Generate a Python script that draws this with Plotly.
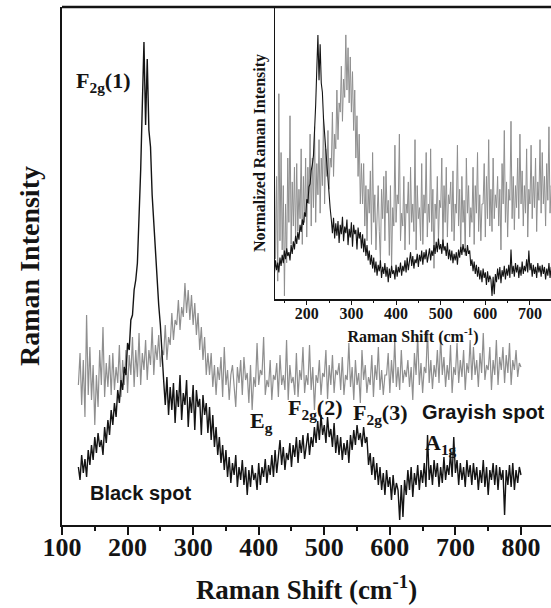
import numpy as np
import plotly.graph_objects as go

# Raman shift grid (cm-1), 2.5 cm-1 sampling
shift = [125 + 2.5 * i for i in range(271)]

# Black spot spectrum (arbitrary intensity units), rows of 50 cm-1
black_spot = [
    58, 45, 70, 52, 66, 48, 75, 60, 80, 65, 88, 72, 92, 78, 85, 70, 98, 82, 105, 90,
    115, 100, 122, 108, 135, 122, 145, 135, 158, 150, 182, 175, 205, 210, 235, 245, 262, 300, 355, 420,
    483, 400, 466, 395, 378, 330, 300, 272, 248, 220, 200, 165, 145, 120, 148, 110, 138, 115, 142, 102,
    135, 118, 150, 105, 132, 120, 145, 98, 128, 112, 140, 95, 135, 118, 126, 90, 130, 110, 122, 92,
    118, 85, 110, 78, 98, 70, 88, 62, 80, 55, 75, 48, 68, 42, 62, 50, 70, 38, 58, 45,
    65, 40, 58, 30, 55, 38, 60, 45, 52, 35, 62, 40, 58, 48, 66, 42, 60, 50, 70, 48,
    75, 52, 68, 85, 60, 78, 55, 72, 65, 82, 58, 80, 68, 88, 62, 85, 72, 90, 66, 82,
    92, 70, 88, 78, 98, 82, 104, 85, 110, 90, 100, 82, 108, 88, 96, 78, 102, 72, 90, 70,
    88, 65, 82, 70, 85, 62, 90, 75, 95, 80, 100, 85, 92, 78, 98, 82, 88, 60, 72, 50,
    68, 45, 62, 40, 58, 35, 52, 30, 55, 38, 48, 25, 50, 30, 42, 35, 5, 40, 8, 45,
    30, 55, 35, 58, 28, 52, 40, 60, 35, 55, 42, 62, 38, 90, 45, 60, 40, 65, 48, 62,
    38, 58, 42, 68, 45, 60, 50, 72, 48, 88, 52, 65, 40, 62, 45, 58, 38, 65, 48, 60,
    40, 62, 45, 58, 35, 55, 42, 65, 38, 58, 30, 55, 45, 62, 40, 60, 35, 58, 45, 55,
    10, 55, 40, 60, 38, 62, 35, 55, 42, 58, 50,
]

# Grayish spot spectrum (arbitrary intensity units), rows of 50 cm-1
gray_spot = [
    140, 172, 120, 165, 108, 210, 130, 178, 125, 160, 100, 150, 118, 175, 140, 198, 128, 162, 138, 170,
    130, 172, 135, 158, 142, 180, 128, 165, 140, 175, 132, 170, 150, 188, 138, 175, 148, 192, 140, 172,
    155, 185, 145, 175, 160, 198, 150, 180, 165, 190, 158, 175, 170, 200, 165, 188, 180, 212, 185, 205,
    200, 225, 195, 218, 208, 242, 212, 235, 205, 230, 200, 222, 190, 212, 175, 198, 165, 188, 150, 172,
    150, 172, 138, 160, 130, 158, 145, 168, 128, 178, 140, 155, 125, 150, 160, 135, 118, 158, 142, 165,
    130, 168, 145, 152, 122, 160, 115, 148, 138, 182, 140, 155, 150, 188, 130, 145, 138, 165, 125, 150,
    145, 162, 128, 170, 140, 150, 135, 185, 125, 160, 142, 148, 130, 172, 128, 155, 145, 178, 132, 150,
    140, 180, 135, 158, 115, 150, 142, 165, 130, 152, 148, 175, 126, 160, 140, 170, 132, 155, 150, 162,
    135, 168, 130, 150, 145, 182, 138, 158, 125, 165, 140, 152, 122, 175, 145, 160, 132, 148, 140, 170,
    128, 160, 145, 178, 135, 155, 130, 150, 150, 172, 132, 165, 142, 185, 138, 158, 135, 175, 142, 155,
    148, 165, 138, 158, 125, 172, 150, 190, 140, 162, 132, 158, 152, 195, 142, 165, 136, 160, 148, 175,
    142, 188, 150, 168, 138, 160, 145, 180, 132, 158, 150, 182, 142, 165, 148, 175, 135, 162, 152, 185,
    145, 178, 150, 165, 138, 172, 152, 192, 145, 160, 155, 178, 135, 165, 150, 185, 140, 168, 155, 178,
    142, 170, 152, 182, 140, 165, 155, 175, 148, 162, 158,
]

x_ticks_main = [100, 200, 300, 400, 500, 600, 700, 800]
x_ticks_inset = [200, 300, 400, 500, 600, 700]


def normalize(v):
    a = np.asarray(v, dtype=float)
    return (a - a.min()) / (a.max() - a.min())


black_norm = normalize(black_spot)
gray_norm = normalize(gray_spot)

BLACK = "#141414"
GRAY = "#8f8f8f"
SERIF = "Liberation Serif"
SANS = "Liberation Sans"

fig = go.Figure()
fig.add_trace(go.Scatter(x=shift, y=gray_spot, mode="lines", name="Grayish spot",
                         line=dict(color=GRAY, width=1.2), xaxis="x", yaxis="y"))
fig.add_trace(go.Scatter(x=shift, y=black_spot, mode="lines", name="Black spot",
                         line=dict(color=BLACK, width=1.4), xaxis="x", yaxis="y"))
fig.add_trace(go.Scatter(x=shift, y=gray_norm, mode="lines", name="Grayish (norm.)",
                         line=dict(color=GRAY, width=1.0), xaxis="x2", yaxis="y2"))
fig.add_trace(go.Scatter(x=shift, y=black_norm, mode="lines", name="Black (norm.)",
                         line=dict(color=BLACK, width=1.1), xaxis="x2", yaxis="y2"))

ann_font = dict(family=SERIF, size=22, color=BLACK, weight="bold")
lab_font = dict(family=SANS, size=20, color=BLACK, weight="bold")
annotations = [
    dict(x=164, y=443, text="F<sub>2g</sub>(1)", font=ann_font),
    dict(x=405, y=103, text="E<sub>g</sub>", font=ann_font),
    dict(x=487, y=116, text="F<sub>2g</sub>(2)", font=ann_font),
    dict(x=586, y=111, text="F<sub>2g</sub>(3)", font=ann_font),
    dict(x=678, y=81, text="A<sub>1g</sub>", font=ann_font),
    dict(x=743, y=113, text="Grayish spot", font=lab_font),
    dict(x=220, y=32, text="Black spot", font=lab_font),
]
for a in annotations:
    a.update(xref="x", yref="y", showarrow=False)

fig.update_layout(
    width=551, height=608,
    margin=dict(l=62, r=0, t=7, b=83),
    paper_bgcolor="white", plot_bgcolor="white",
    showlegend=False,
    annotations=annotations,
    xaxis=dict(
        domain=[0, 1], range=[100, 845.8],
        tickvals=x_ticks_main, ticks="outside", ticklen=8, tickwidth=2, tickcolor=BLACK,
        minor=dict(dtick=50, tick0=100, ticks="outside", ticklen=4, tickwidth=2, tickcolor=BLACK),
        showline=True, linewidth=2, linecolor=BLACK, showgrid=False, zeroline=False,
        tickfont=dict(family=SERIF, size=26, color=BLACK, weight="bold"),
        ticklabelstandoff=-10,
        title=dict(text="Raman Shift (cm<sup>-1</sup>)", standoff=19,
                   font=dict(family=SERIF, size=27, color=BLACK, weight="bold")),
    ),
    yaxis=dict(
        domain=[0, 1], range=[0, 518],
        showticklabels=False, ticks="",
        showline=True, linewidth=2, linecolor=BLACK, showgrid=False, zeroline=False,
        title=dict(text="Raman Intensity", standoff=12,
                   font=dict(family=SERIF, size=28, color=BLACK, weight="bold")),
    ),
    xaxis2=dict(
        domain=[0.4356, 1], range=[128.9, 747.1], anchor="y2",
        tickvals=x_ticks_inset, ticks="outside", ticklen=4, tickwidth=1.2, tickcolor=BLACK,
        minor=dict(dtick=50, tick0=150, ticks="outside", ticklen=2.5, tickwidth=1.2, tickcolor=BLACK),
        showline=True, linewidth=1.5, linecolor=BLACK, showgrid=False, zeroline=False,
        tickfont=dict(family=SERIF, size=16, color=BLACK, weight="bold"),
        ticklabelstandoff=-5,
        title=dict(text="Raman Shift (cm<sup>-1</sup>)", standoff=10,
                   font=dict(family=SERIF, size=16, color=BLACK, weight="bold")),
    ),
    yaxis2=dict(
        domain=[0.4363, 1], range=[-0.012, 1.107], anchor="x2",
        showticklabels=False, ticks="",
        showline=True, linewidth=1.2, linecolor=BLACK, showgrid=False, zeroline=False,
        title=dict(text="Normalized Raman Intensity", standoff=4,
                   font=dict(family=SERIF, size=16, color=BLACK, weight="bold")),
    ),
    shapes=[dict(type="line", xref="paper", yref="paper", x0=0, x1=1, y0=1, y1=1,
                 line=dict(color=BLACK, width=2.5))],
)

fig.write_html("out.html", config={"displayModeBar": False},
               post_script="document.body.style.margin='0';document.body.style.overflow='hidden';")
